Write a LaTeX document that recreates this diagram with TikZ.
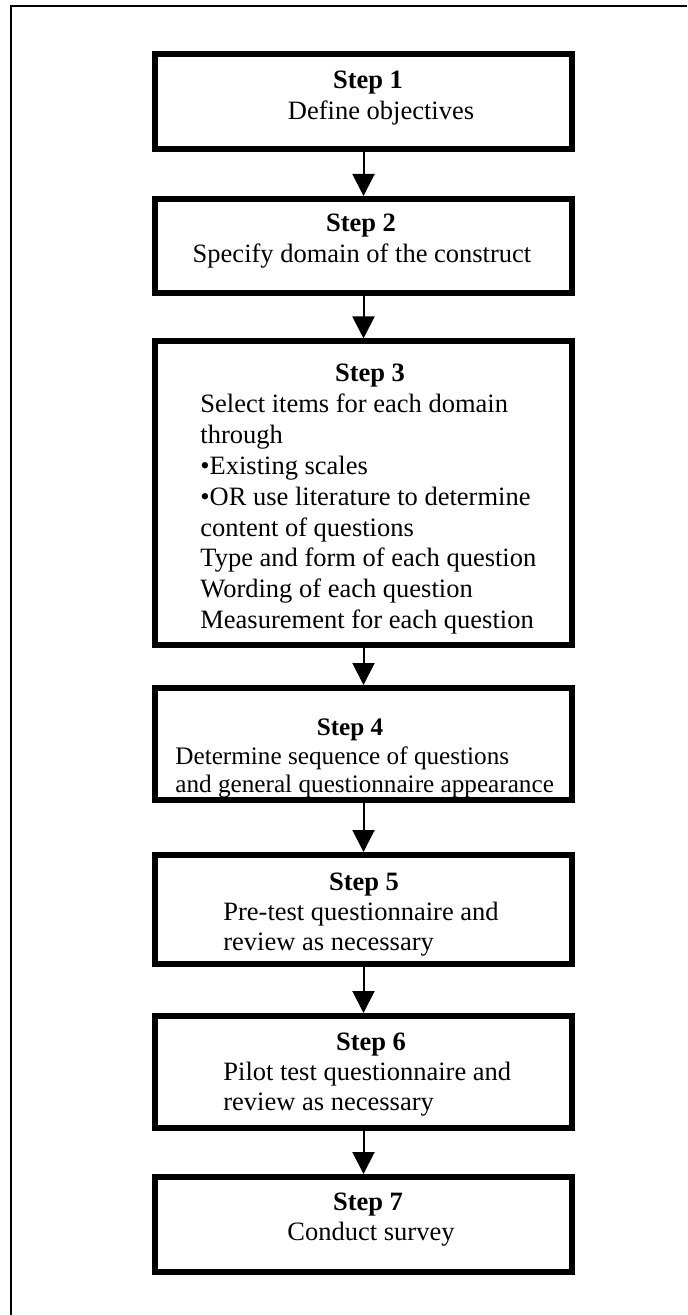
\documentclass[tikz,border=0pt]{standalone}
\usepackage{fontspec}
\setmainfont{Liberation Serif}
\usetikzlibrary{arrows.meta}
\begin{document}
\begin{tikzpicture}[x=0.5pt,y=-0.5pt,
  stepbox/.style={draw=black, line width=3pt, fill=white, inner sep=0pt, minimum width={417*0.5pt}},
  ttl/.style={inner sep=0pt, anchor=base, font=\fontsize{13.25pt}{15pt}\selectfont\bfseries},
  txt/.style={inner sep=0pt, anchor=base, font=\fontsize{13.25pt}{15pt}\selectfont},
  txtl/.style={inner sep=0pt, anchor=base west, font=\fontsize{13.25pt}{15pt}\selectfont},
  ttls/.style={inner sep=0pt, anchor=base, font=\fontsize{12.6pt}{15pt}\selectfont\bfseries},
  txtls/.style={inner sep=0pt, anchor=base west, font=\fontsize{12.6pt}{15pt}\selectfont},
  conn/.style={line width=1pt, -{Triangle[width=11pt,length=11pt]}}]
\useasboundingbox (0,0) rectangle (687,1315);
% frame (top and left edges)
\coordinate (ftl) at (11,6);
\coordinate (ftr) at (687,6);
\coordinate (fbl) at (11,1315);
\draw[line width=1pt] (ftr) -- (ftl) -- (fbl);
% boxes
\node[stepbox, minimum height={95.5*0.5pt}] (b1) at (363.5,101.7) {};
\node[stepbox, minimum height={94*0.5pt}] (b2) at (363.5,246) {};
\node[stepbox, minimum height={303.5*0.5pt}] (b3) at (363.5,493.2) {};
\node[stepbox, minimum height={112*0.5pt}] (b4) at (363.5,744) {};
\node[stepbox, minimum height={109*0.5pt}] (b5) at (363.5,909.5) {};
\node[stepbox, minimum height={112*0.5pt}] (b6) at (363.5,1072) {};
\node[stepbox, minimum height={95*0.5pt}] (b7) at (363.5,1224.5) {};
% connectors
\foreach \a/\b in {b1/b2,b2/b3,b3/b4,b4/b5,b5/b6,b6/b7}
  \draw[conn] (\a.south) -- (\b.north);
% texts
\node[ttl] (t1) at (368,89) {Step 1};
\node[txt] (t1a) at (381,120) {Define objectives};
\node[ttl] (t2) at (361,232) {Step 2};
\node[txt] (t2a) at (362,263) {Specify domain of the construct};
\node[ttl] (t3) at (370,382) {Step 3};
\node[txtl] (t3a) at (200,412.8) {Select items for each domain};
\node[txtl] (t3b) at (200,443.6) {through};
\node[txtl] (t3c) at (200,474.4) {\textbullet Existing scales};
\node[txtl] (t3d) at (200,505.2) {\textbullet OR use literature to determine};
\node[txtl] (t3e) at (200,536) {content of questions};
\node[txtl] (t3f) at (200,566.8) {Type and form of each question};
\node[txtl] (t3g) at (200,597.6) {Wording of each question};
\node[txtl] (t3h) at (200,628.4) {Measurement for each question};
\node[ttls] (t4) at (350,735) {Step 4};
\node[txtls] (t4a) at (175,764) {Determine sequence of questions};
\node[txtls] (t4b) at (175,792) {and general questionnaire appearance};
\node[ttl] (t5) at (364,890) {Step 5};
\node[txtl] (t5a) at (223,920) {Pre-test questionnaire and};
\node[txtl] (t5b) at (223,950) {review as necessary};
\node[ttl] (t6) at (371,1050) {Step 6};
\node[txtl] (t6a) at (223,1080) {Pilot test questionnaire and};
\node[txtl] (t6b) at (223,1110) {review as necessary};
\node[ttl] (t7) at (368,1210) {Step 7};
\node[txt] (t7a) at (371,1240) {Conduct survey};
\end{tikzpicture}
\end{document}
